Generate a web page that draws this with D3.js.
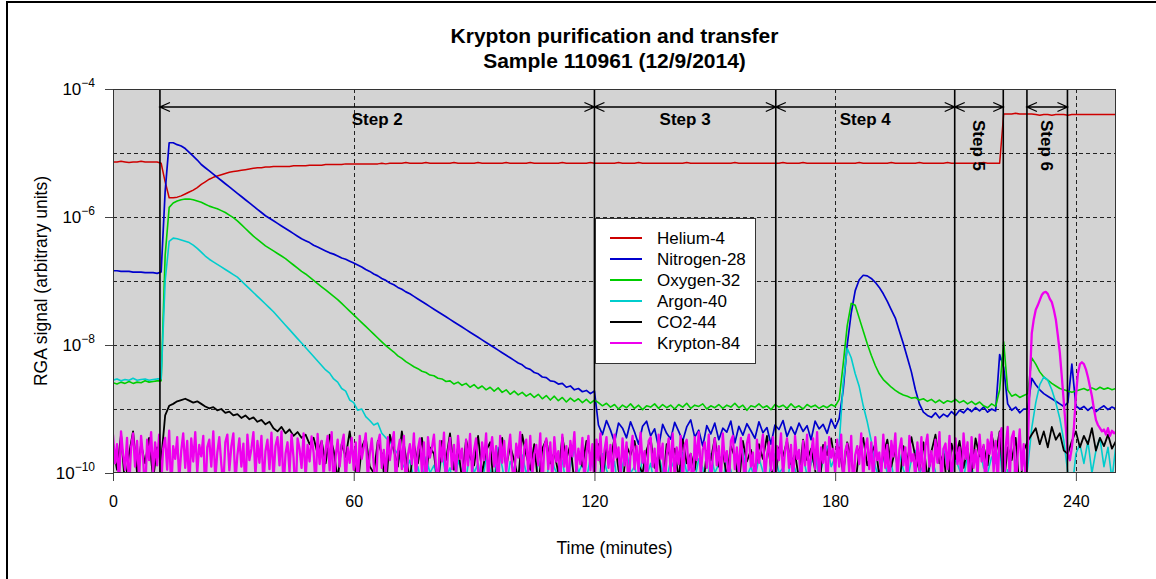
<!DOCTYPE html>
<html>
<head>
<meta charset="utf-8">
<script src="https://cdn.jsdelivr.net/npm/d3@7"></script>
<style>
body { margin: 0; background: #fff; }
text { font-family: "Liberation Sans", Arial, sans-serif; }
</style>
</head>
<body>
<script>
// RGA signal, stored as log10 of the signal, one reading per minute (krypton every half minute)
var helium = [
-5.14,-5.14,-5.13,-5.14,-5.15,-5.14,-5.14,-5.13,-5.14,-5.14,
-5.14,-5.14,-5.16,-5.45,-5.70,-5.70,-5.69,-5.67,-5.64,-5.61,
-5.58,-5.54,-5.49,-5.45,-5.41,-5.38,-5.36,-5.34,-5.32,-5.30,
-5.29,-5.28,-5.27,-5.26,-5.25,-5.24,-5.23,-5.23,-5.22,-5.22,
-5.21,-5.21,-5.21,-5.21,-5.21,-5.20,-5.20,-5.20,-5.20,-5.19,
-5.19,-5.19,-5.19,-5.18,-5.18,-5.18,-5.18,-5.18,-5.17,-5.17,
-5.17,-5.17,-5.17,-5.17,-5.17,-5.17,-5.17,-5.16,-5.17,-5.16,
-5.16,-5.16,-5.16,-5.15,-5.16,-5.16,-5.16,-5.16,-5.15,-5.16,
-5.16,-5.16,-5.16,-5.16,-5.16,-5.15,-5.16,-5.16,-5.16,-5.16,
-5.16,-5.15,-5.16,-5.16,-5.16,-5.16,-5.16,-5.16,-5.15,-5.16,
-5.16,-5.16,-5.16,-5.16,-5.15,-5.16,-5.16,-5.16,-5.16,-5.16,
-5.16,-5.16,-5.15,-5.16,-5.16,-5.16,-5.16,-5.16,-5.16,-5.15,
-5.16,-5.16,-5.16,-5.16,-5.16,-5.16,-5.15,-5.16,-5.16,-5.16,
-5.16,-5.15,-5.16,-5.16,-5.16,-5.16,-5.16,-5.16,-5.16,-5.16,
-5.16,-5.16,-5.16,-5.15,-5.16,-5.16,-5.16,-5.16,-5.16,-5.16,
-5.16,-5.16,-5.16,-5.16,-5.16,-5.15,-5.16,-5.16,-5.16,-5.16,
-5.16,-5.16,-5.16,-5.16,-5.16,-5.16,-5.16,-5.15,-5.16,-5.16,
-5.16,-5.16,-5.15,-5.16,-5.16,-5.16,-5.16,-5.16,-5.16,-5.16,
-5.16,-5.16,-5.16,-5.16,-5.16,-5.16,-5.15,-5.16,-5.16,-5.16,
-5.16,-5.16,-5.16,-5.16,-5.15,-5.16,-5.16,-5.16,-5.16,-5.16,
-5.16,-5.15,-5.16,-5.16,-5.16,-5.16,-5.16,-5.16,-5.15,-5.16,
-5.16,-5.16,-5.16,-5.16,-5.16,-5.16,-5.16,-5.15,-5.16,-5.16,
-5.16,-5.16,
-4.39,-4.39,-4.39,-4.38,-4.39,-4.39,-4.39,-4.39,
-4.40,-4.41,-4.40,-4.40,-4.41,-4.40,-4.40,-4.40,-4.41,-4.40,
-4.40,-4.40,-4.40,-4.40,-4.40,-4.40,-4.40,-4.40,-4.40,-4.40,-4.40
];

var nitrogen = [
-6.84,-6.84,-6.85,-6.85,-6.85,-6.86,-6.86,-6.86,-6.87,-6.87,
-6.87,-6.88,-6.86,-5.60,-4.84,-4.84,-4.87,-4.89,-4.93,-4.99,
-5.05,-5.11,-5.18,-5.23,-5.28,-5.33,-5.38,-5.43,-5.48,-5.53,
-5.58,-5.63,-5.68,-5.73,-5.78,-5.83,-5.88,-5.93,-5.98,-6.02,
-6.06,-6.10,-6.14,-6.18,-6.22,-6.26,-6.30,-6.34,-6.37,-6.40,
-6.44,-6.47,-6.50,-6.53,-6.56,-6.58,-6.61,-6.64,-6.66,-6.69,
-6.72,-6.75,-6.78,-6.82,-6.85,-6.89,-6.92,-6.96,-6.99,-7.03,
-7.06,-7.10,-7.13,-7.17,-7.20,-7.24,-7.28,-7.32,-7.36,-7.40,
-7.44,-7.48,-7.52,-7.56,-7.60,-7.64,-7.68,-7.72,-7.76,-7.80,
-7.84,-7.88,-7.92,-7.96,-8.00,-8.04,-8.08,-8.12,-8.16,-8.20,
-8.24,-8.28,-8.31,-8.36,-8.38,-8.43,-8.45,-8.50,-8.51,-8.56,
-8.57,-8.61,-8.60,-8.66,-8.64,-8.70,-8.68,-8.73,-8.71,-8.76,
-8.72,
-9.25,-9.40,-9.18,-9.33,-9.52,-9.22,-9.30,-9.45,-9.20,-9.36,
-9.55,-9.27,-9.19,-9.42,-9.31,-9.60,-9.24,-9.38,-9.47,-9.21,
-9.35,-9.50,-9.28,-9.17,-9.44,-9.33,-9.58,-9.26,-9.39,-9.22,
-9.48,-9.30,-9.36,-9.19,-9.53,-9.27,-9.41,-9.23,-9.34,-9.46,
-9.20,-9.37,-9.29,-9.55,-9.25,-9.32,-9.18,-9.43,-9.28,-9.40,
-9.22,-9.35,-9.26,-9.48,-9.19,-9.31,-9.24,-9.38,-9.16,-9.30,
-9.15,-8.70,-8.00,-7.50,-7.15,-6.98,-6.91,-6.92,-6.96,-7.02,
-7.10,-7.20,-7.32,-7.45,-7.58,-7.78,-7.98,-8.20,-8.42,-8.70,
-8.92,-9.05,-9.10,-9.13,-9.06,-9.14,-9.08,-9.12,-9.04,-9.10,
-9.02,-9.06,-8.99,-9.04,-8.98,-9.03,-8.97,-9.05,-9.00,-9.03,
-8.15,-8.35,-8.92,-9.02,-8.97,-9.06,-9.00,-9.00,-8.52,-8.62,
-8.70,-8.76,-8.80,-8.84,-8.88,-8.92,-8.96,-8.90,-8.30,-8.95,
-9.00,-8.96,-9.02,-8.97,-9.04,-8.99,-8.95,-9.01,-8.97,-9.00
];

var oxygen = [
-8.59,-8.61,-8.58,-8.60,-8.57,-8.60,-8.58,-8.59,-8.56,-8.58,
-8.57,-8.56,-8.56,-6.60,-5.85,-5.78,-5.75,-5.73,-5.72,-5.72,
-5.73,-5.75,-5.77,-5.80,-5.83,-5.85,-5.87,-5.90,-5.93,-5.97,
-6.01,-6.06,-6.12,-6.18,-6.24,-6.30,-6.35,-6.40,-6.45,-6.49,
-6.53,-6.57,-6.61,-6.65,-6.70,-6.75,-6.80,-6.85,-6.89,-6.94,
-6.99,-7.04,-7.09,-7.14,-7.19,-7.24,-7.29,-7.35,-7.41,-7.47,
-7.53,-7.59,-7.65,-7.71,-7.77,-7.83,-7.89,-7.95,-8.01,-8.06,
-8.11,-8.17,-8.21,-8.26,-8.30,-8.34,-8.37,-8.41,-8.43,-8.47,
-8.48,-8.52,-8.53,-8.57,-8.56,-8.61,-8.58,-8.63,-8.60,-8.66,
-8.62,-8.68,-8.64,-8.70,-8.66,-8.72,-8.67,-8.74,-8.70,-8.77,
-8.72,-8.78,-8.74,-8.80,-8.76,-8.82,-8.77,-8.84,-8.79,-8.86,
-8.80,-8.87,-8.82,-8.89,-8.83,-8.88,-8.84,-8.90,-8.85,-8.91,
-8.86,
-8.90,-8.95,-8.91,-8.97,-8.93,-9.00,-8.94,-8.98,-8.92,-8.99,
-8.94,-9.01,-8.95,-8.97,-8.92,-8.99,-8.93,-8.98,-8.94,-9.00,
-8.93,-8.97,-8.91,-8.99,-8.94,-8.96,-8.92,-9.00,-8.95,-8.98,
-8.93,-8.99,-8.94,-8.97,-8.91,-8.98,-8.94,-9.02,-8.95,-8.97,
-8.92,-8.98,-8.95,-9.01,-8.93,-8.97,-8.94,-8.99,-8.92,-8.98,
-8.95,-9.00,-8.93,-8.97,-8.94,-8.99,-8.95,-8.98,-8.93,-8.96,
-8.85,-8.30,-7.70,-7.35,-7.38,-7.58,-7.78,-7.98,-8.16,-8.32,
-8.45,-8.54,-8.60,-8.66,-8.71,-8.75,-8.78,-8.80,-8.83,-8.82,
-8.86,-8.84,-8.88,-8.85,-8.90,-8.86,-8.91,-8.87,-8.89,-8.85,
-8.90,-8.87,-8.92,-8.88,-8.93,-8.89,-8.95,-8.98,-8.92,-8.96,
-8.70,-7.95,-8.70,-8.80,-8.77,-8.82,-8.79,-8.76,-8.20,-8.30,
-8.42,-8.50,-8.55,-8.60,-8.64,-8.68,-8.70,-8.72,-8.74,-8.72,
-8.70,-8.68,-8.71,-8.67,-8.70,-8.66,-8.69,-8.67,-8.70,-8.68
];

var argon = [
-8.55,-8.53,-8.56,-8.54,-8.55,-8.52,-8.55,-8.54,-8.53,-8.55,
-8.54,-8.53,-8.53,-7.00,-6.38,-6.33,-6.34,-6.36,-6.38,-6.40,
-6.44,-6.49,-6.55,-6.61,-6.66,-6.70,-6.74,-6.78,-6.82,-6.86,
-6.90,-6.94,-7.00,-7.06,-7.12,-7.18,-7.24,-7.30,-7.36,-7.42,
-7.48,-7.55,-7.62,-7.69,-7.76,-7.83,-7.90,-7.97,-8.04,-8.11,
-8.18,-8.25,-8.32,-8.39,-8.44,-8.53,-8.58,-8.68,-8.72,-8.86,
-8.90,-9.02,-9.00,-9.12,-9.18,-9.25,-9.22,-9.38,-9.45,-9.50,
-9.62,-9.70,-9.85,-9.95,-9.80,-10.1,-9.90,-10.2,-9.75,-10.0,
-9.88,-10.15,-9.70,-10.05,-9.92,-10.3,-9.80,-9.98,-10.1,-9.65,
-10.0,-9.85,-10.2,-9.75,-9.95,-10.1,-9.60,-9.90,-10.25,-9.82,
-9.95,-10.1,-9.72,-10.0,-9.88,-10.3,-9.78,-9.96,-10.15,-9.68,
-9.92,-10.05,-9.80,-10.2,-9.90,-9.62,-10.0,-9.85,-10.1,-9.76,
-9.98,-10.2,-9.70,-9.95,-10.1,-9.82,-10.3,-9.88,-9.66,-10.0,
-9.90,-10.15,-9.75,-10.05,-9.85,-10.2,-9.72,-9.98,-10.1,-9.80,
-9.95,-10.25,-9.68,-10.0,-9.87,-10.1,-9.78,-9.92,-10.3,-9.70,
-10.0,-9.86,-10.15,-9.74,-9.96,-10.2,-9.82,-9.64,-10.05,-9.90,
-10.1,-9.76,-9.98,-10.25,-9.84,-9.70,-10.0,-9.92,-10.15,-9.78,
-9.94,-10.2,-9.72,-10.05,-9.86,-9.68,-10.1,-9.80,-9.58,-9.90,
-9.75,
-9.55,-8.60,-8.05,-8.20,-8.45,-8.65,-8.95,-9.20,-9.50,-9.90,
-10.1,-9.75,-10.0,-9.85,-10.2,-9.70,-9.95,-10.1,-9.80,-9.65,
-10.0,-9.88,-10.15,-9.72,-9.98,-10.2,-9.62,-9.90,-10.05,-9.78,
-9.95,-10.1,-9.70,-9.88,-10.2,-9.60,-9.92,-10.0,-9.75,-9.85,
-9.60,-10.3,-9.95,-10.4,-9.80,-10.2,-10.4,-9.90,-9.30,-8.90,
-8.62,-8.50,-8.55,-8.70,-8.90,-9.15,-9.50,-10.0,-10.3,-9.70,
-9.55,-9.85,-9.50,-10.0,-9.65,-9.45,-9.90,-9.60,-10.1,-9.55
];

var co2 = [
-9.60,-9.95,-9.40,-10.2,-9.70,-9.35,-10.0,-9.55,-9.85,-9.45,
-10.1,-9.60,-9.80,-9.10,-8.95,-8.92,-8.88,-8.86,-8.84,-8.87,
-8.90,-8.88,-8.92,-8.96,-8.99,-8.97,-9.02,-9.00,-9.06,-9.04,
-9.10,-9.08,-9.14,-9.10,-9.16,-9.13,-9.20,-9.17,-9.24,-9.20,
-9.30,-9.35,-9.28,-9.38,-9.32,-9.42,-9.36,-9.45,-9.40,-9.55,
-9.45,-9.70,-9.50,-9.85,-9.40,-9.65,-10.1,-9.55,-9.75,-9.35,
-9.80,-10.2,-9.60,-9.45,-9.90,-10.0,-9.50,-9.70,-10.3,-9.40,
-9.65,-9.90,-9.35,-9.75,-10.1,-9.55,-9.85,-9.45,-10.0,-9.60,
-9.70,-10.2,-9.50,-9.80,-9.38,-9.95,-9.60,-10.1,-9.48,-9.75,
-9.88,-9.42,-10.0,-9.65,-9.52,-10.3,-9.70,-9.45,-9.90,-9.58,
-9.80,-10.1,-9.40,-9.72,-9.95,-9.55,-10.2,-9.62,-9.48,-9.85,
-9.68,-10.0,-9.44,-9.78,-9.56,-10.15,-9.66,-9.90,-9.50,-9.74,
-9.85,-9.55,-10.1,-9.62,-9.80,-9.45,-9.95,-10.2,-9.58,-9.72,
-9.50,-9.88,-10.0,-9.64,-9.46,-9.92,-9.70,-10.25,-9.55,-9.78,
-9.62,-10.1,-9.48,-9.85,-9.70,-9.95,-9.52,-10.3,-9.66,-9.80,
-9.45,-9.90,-9.68,-10.05,-9.58,-9.75,-10.2,-9.50,-9.82,-9.64,
-10.0,-9.55,-9.78,-9.42,-9.92,-10.15,-9.60,-9.74,-9.50,-9.86,
-9.70,-10.1,-9.48,-9.80,-9.62,-9.95,-10.3,-9.56,-9.72,-9.46,
-9.84,-9.60,-10.0,-9.52,-9.76,-10.2,-9.64,-9.45,-9.88,-9.70,
-9.55,-10.05,-9.72,-9.48,-9.90,-9.62,-10.2,-9.58,-9.80,-9.44,
-9.75,-9.95,-9.52,-10.1,-9.66,-9.40,-9.85,-9.70,-10.25,-9.54,
-9.78,-9.50,-9.92,-9.62,-10.0,-9.46,-9.74,-9.58,-9.88,-9.40,
-9.70,-9.35,-10.2,-9.60,-9.80,-9.45,-10.3,-9.65,-9.50,-9.40,
-9.30,-9.55,-9.35,-9.60,-9.28,-9.48,-9.38,-9.65,-9.70,-9.50,
-9.35,-9.60,-9.42,-9.55,-9.30,-9.65,-9.45,-9.58,-9.40,-9.62,-9.50
];

var krypton = [
-9.40,-9.85,-9.55,-10.2,-9.35,-9.70,-9.95,-9.45,-10.3,-9.60,-9.38,-9.90,-9.50,-10.1,-9.42,-9.75,-10.4,-9.48,-9.80,-9.36,
-10.0,-9.52,-9.88,-9.40,-10.2,-9.62,-9.45,-9.95,-9.34,-10.3,-9.58,-9.78,-9.44,-10.1,-9.66,-9.38,-9.92,-9.50,-10.25,-9.46,
-9.82,-9.36,-10.0,-9.56,-9.74,-9.42,-10.35,-9.60,-9.48,-9.90,-9.35,-10.1,-9.68,-9.44,-9.86,-10.2,-9.52,-9.40,-9.96,-9.58,
-9.38,-10.15,-9.72,-9.46,-9.90,-9.54,-10.3,-9.40,-9.80,-9.62,-9.36,-10.05,-9.50,-9.84,-9.42,-10.2,-9.66,-9.48,-9.94,-9.37,
-10.1,-9.58,-9.44,-9.88,-9.35,-10.25,-9.70,-9.52,-9.98,-9.40,-9.76,-10.4,-9.46,-9.62,-9.92,-9.38,-10.1,-9.56,-9.82,-9.43,
-9.68,-10.2,-9.39,-9.86,-9.50,-10.05,-9.64,-9.42,-9.96,-9.36,-10.3,-9.74,-9.48,-9.90,-9.56,-9.40,-10.15,-9.60,-9.84,-9.45,
-9.95,-9.52,-10.25,-9.42,-9.78,-9.60,-9.38,-10.1,-9.70,-9.46,-9.88,-10.35,-9.54,-9.40,-9.92,-9.64,-10.05,-9.44,-9.80,-9.58,
-9.36,-10.2,-9.66,-9.48,-9.94,-9.42,-10.3,-9.72,-9.55,-9.86,-9.38,-10.1,-9.62,-9.46,-9.98,-9.52,-10.4,-9.44,-9.76,-9.60,
-9.40,-9.90,-10.15,-9.50,-9.82,-9.37,-10.25,-9.68,-9.45,-9.94,-9.56,-10.05,-9.42,-9.78,-9.62,-10.3,-9.48,-9.88,-9.39,-10.0,
-9.64,-9.46,-9.96,-10.2,-9.52,-9.80,-9.38,-10.1,-9.70,-9.44,-9.90,-9.58,-10.35,-9.42,-9.84,-9.50,-10.0,-9.66,-9.40,-9.92,
-10.15,-9.54,-9.76,-9.36,-10.25,-9.62,-9.48,-9.98,-9.42,-10.05,-9.72,-9.56,-9.88,-9.38,-10.3,-9.60,-9.46,-9.94,-9.52,-10.1,
-9.44,-9.82,-9.66,-10.2,-9.40,-9.90,-9.58,-10.4,-9.50,-9.74,-9.36,-10.0,-9.62,-9.86,-9.45,-10.15,-9.70,-9.42,-9.96,-9.55,
-10.3,-9.48,-9.80,-9.38,-10.05,-9.64,-9.44,-9.92,-9.56,-10.2,-9.40,-9.76,-9.60,-10.1,-9.46,-9.88,-9.52,-10.35,-9.68,-9.42,
-9.94,-9.58,-10.0,-9.37,-9.84,-9.66,-10.25,-9.50,-9.44,-9.90,-9.62,-10.15,-9.40,-9.78,-9.54,-10.3,-9.72,-9.46,-9.98,-9.38,
-10.1,-9.60,-9.86,-9.42,-10.2,-9.56,-9.48,-9.96,-9.70,-10.4,-9.44,-9.80,-9.36,-10.05,-9.64,-9.52,-9.92,-9.40,-10.25,-9.74,
-9.46,-9.88,-9.58,-10.15,-9.38,-9.82,-9.66,-10.3,-9.50,-9.42,-9.94,-9.60,-10.0,-9.45,-9.76,-10.2,-9.54,-9.40,-9.90,-9.68,
-10.35,-9.48,-9.84,-9.62,-9.40,-10.1,-9.72,-9.52,-9.96,-9.44,-10.25,-9.58,-9.80,-9.38,-10.05,-9.66,-9.46,-9.92,-9.56,-10.2,
-9.42,-9.78,-9.64,-10.3,-9.50,-9.88,-9.40,-10.1,-9.70,-9.46,-9.94,-9.36,-10.15,-9.60,-9.84,-9.52,-10.4,-9.44,-9.76,-9.62,
-10.0,-9.48,-9.90,-9.40,-10.2,-9.66,-9.54,-9.98,-9.42,-10.3,-9.72,-9.58,-9.86,-9.38,-10.1,-9.62,-9.46,-9.94,-9.52,-10.25,
-9.44,-9.80,-9.68,-10.05,-9.40,-9.92,-9.56,-10.35,-9.50,-9.74,-9.38,-10.15,-9.64,-9.46,-9.88,-9.60,-10.2,-9.42,-9.82,-9.70,
-10.1,-9.52,-9.96,-9.44,-10.3,-9.58,-9.40,-9.90,-9.66,-10.0,-9.48,-9.84,-9.36,-10.25,-9.62,-9.54,-9.94,-9.42,-10.15,-9.72,
-9.46,-9.86,-9.60,-10.2,-9.38,-9.78,-9.52,-10.4,-9.44,-9.92,-9.64,-10.05,-9.40,-9.82,-9.56,-10.3,-9.48,-9.70,-9.36,-9.98,
-9.50,-10.2,-9.40,-9.30,-10.4,-9.60,-9.28,-10.1,-9.45,-9.35,-10.3,-9.70,-9.32,-9.95,-9.55,-10.2,-9.60,-8.60,-7.82,-7.60,
-7.45,-7.38,-7.30,-7.22,-7.18,-7.17,-7.20,-7.28,-7.33,-7.45,-7.60,-7.85,-8.12,-8.50,-8.90,-9.30,-9.70,-9.80,-9.60,-9.30,
-8.80,-8.45,-8.30,-8.27,-8.30,-8.38,-8.50,-8.65,-8.80,-9.00,-9.17,-9.25,-9.30,-9.35,-9.32,-9.40,-9.30,-9.42,-9.34,-9.38,
-9.36
];

var seriesNames = ["Helium-4", "Nitrogen-28", "Oxygen-32", "Argon-40", "CO2-44", "Krypton-84"];
var seriesColors = ["#cd0000", "#0000cd", "#00cd00", "#00cdcd", "#000000", "#ee00ee"];
var seriesData = [helium, nitrogen, oxygen, argon, co2, krypton];
var seriesStep = [1, 1, 1, 1, 1, 0.5];   // minutes between readings
var seriesWidth = [1.5, 1.7, 1.6, 1.6, 1.8, 2.3];

// purification steps (minutes)
var stepNames = ["Step 2", "Step 3", "Step 4", "Step 5", "Step 6"];
var stepStart = [11.7, 120, 165.2, 209.8, 227.8];
var stepEnd = [120, 165.2, 209.8, 221.9, 237.9];
var stepLines = [11.7, 120, 165.2, 209.8, 221.9, 227.8, 237.9];

var xTicks = [0, 60, 120, 180, 240];
var yTicks = [1e-4, 1e-6, 1e-8, 1e-10];
var yGrid = [1e-5, 1e-6, 1e-7, 1e-8, 1e-9];
var xGrid = [60, 120, 180, 240];

var width = 1156, height = 579;
var margin = {left: 113, right: 40, top: 89, bottom: 105};
var plotW = width - margin.left - margin.right;
var plotH = height - margin.top - margin.bottom - 1;

var x = d3.scaleLinear().domain([0, 250]).range([margin.left, margin.left + plotW]);
var y = d3.scaleLog().domain([1e-10, 1e-4]).range([margin.top + plotH, margin.top]);

var svg = d3.select("body").append("svg").attr("width", width).attr("height", height);

// outer frame of the figure
svg.append("path").attr("d", "M7,600 L7,2 L1160,2")
   .attr("fill", "none").attr("stroke", "#000").attr("stroke-width", 2);

svg.append("defs").append("clipPath").attr("id", "plotclip")
   .append("rect").attr("x", margin.left).attr("y", margin.top).attr("width", plotW).attr("height", plotH);

svg.append("rect").attr("x", margin.left).attr("y", margin.top)
   .attr("width", plotW).attr("height", plotH).attr("fill", "#d3d3d3");

var grid = svg.append("g").attr("stroke", "#222").attr("stroke-dasharray", "4,3").attr("stroke-width", 1);
grid.selectAll("line.h").data(yGrid).enter().append("line")
    .attr("x1", margin.left).attr("x2", margin.left + plotW)
    .attr("y1", function(d) { return Math.round(y(d)) + 0.5; })
    .attr("y2", function(d) { return Math.round(y(d)) + 0.5; });
grid.selectAll("line.v").data(xGrid).enter().append("line")
    .attr("y1", margin.top).attr("y2", margin.top + plotH)
    .attr("x1", function(d) { return Math.round(x(d)) + 0.5; })
    .attr("x2", function(d) { return Math.round(x(d)) + 0.5; });

var line = d3.line()
    .x(function(d) { return x(d[0]); })
    .y(function(d) { return y(Math.pow(10, d[1])); });

var traces = svg.append("g").attr("clip-path", "url(#plotclip)");
seriesData.forEach(function(vals, k) {
  var pts = vals.map(function(v, i) { return [i * seriesStep[k], v]; });
  traces.append("path")
    .attr("d", line(pts))
    .attr("fill", "none")
    .attr("stroke", seriesColors[k])
    .attr("stroke-width", seriesWidth[k])
    .attr("stroke-linejoin", "round");
});

// step boundaries
svg.append("g").selectAll("line").data(stepLines).enter().append("line")
   .attr("x1", function(d) { return x(d); }).attr("x2", function(d) { return x(d); })
   .attr("y1", margin.top).attr("y2", margin.top + plotH)
   .attr("stroke", "#000").attr("stroke-width", 1.6);

// double-headed arrows and step labels
var arrowY = margin.top + 18;
var arrows = svg.append("g").attr("fill", "none").attr("stroke", "#000").attr("stroke-width", 1.3);
stepNames.forEach(function(name, i) {
  var x1 = x(stepStart[i]), x2 = x(stepEnd[i]);
  arrows.append("path").attr("d",
    "M" + x1 + "," + arrowY + "L" + x2 + "," + arrowY +
    "M" + (x1 + 10) + "," + (arrowY - 4.5) + "L" + x1 + "," + arrowY + "L" + (x1 + 10) + "," + (arrowY + 4.5) +
    "M" + (x2 - 10) + "," + (arrowY - 4.5) + "L" + x2 + "," + arrowY + "L" + (x2 - 10) + "," + (arrowY + 4.5));
  var cx = (x1 + x2) / 2;
  if (x2 - x1 > 100) {
    svg.append("text").attr("x", cx).attr("y", arrowY + 18)
       .attr("text-anchor", "middle").attr("font-weight", "bold").attr("font-size", 17).text(name);
  } else {
    svg.append("text").attr("transform", "translate(" + cx + "," + (arrowY + 13) + ") rotate(90)")
       .attr("dy", "0.35em").attr("font-weight", "bold").attr("font-size", 17).text(name);
  }
});

// axes
var xAxis = d3.axisBottom(x).tickValues(xTicks).tickSize(8).tickPadding(15).tickSizeOuter(0);
var gx = svg.append("g").attr("transform", "translate(0," + (margin.top + plotH) + ")").call(xAxis);
gx.select(".domain").remove();
gx.selectAll(".tick line").attr("stroke", "#444");
gx.selectAll(".tick text").attr("font-size", 16).attr("fill", "#000")
  .style("font-family", "'Liberation Sans', Arial, sans-serif");

var yAxis = d3.axisLeft(y).tickValues(yTicks).tickSize(8).tickPadding(10).tickFormat("");
var gy = svg.append("g").attr("transform", "translate(" + margin.left + ",0)").call(yAxis);
gy.select(".domain").remove();
gy.selectAll(".tick line").attr("stroke", "#444");
gy.selectAll(".tick text").each(function(d) {
  var t = d3.select(this).attr("font-size", 17).attr("fill", "#000")
            .style("font-family", "'Liberation Sans', Arial, sans-serif");
  t.append("tspan").text("10");
  t.append("tspan").attr("font-size", 12).attr("dy", -8)
   .text("\u2212" + Math.round(-Math.log10(d)));
});

// plot box
svg.append("rect").attr("x", margin.left + 0.5).attr("y", margin.top + 0.5)
   .attr("width", plotW - 1).attr("height", plotH - 1)
   .attr("fill", "none").attr("stroke", "#333").attr("stroke-width", 1);

// titles
svg.append("text").attr("x", x(125)).attr("y", 43).attr("text-anchor", "middle")
   .attr("font-weight", "bold").attr("font-size", 21).text("Krypton purification and transfer");
svg.append("text").attr("x", x(125)).attr("y", 68).attr("text-anchor", "middle")
   .attr("font-weight", "bold").attr("font-size", 21).text("Sample 110961 (12/9/2014)");
svg.append("text").attr("x", x(125)).attr("y", 554).attr("text-anchor", "middle")
   .attr("font-size", 17.5).text("Time (minutes)");
svg.append("text").attr("transform", "translate(47," + (margin.top + plotH / 2) + ") rotate(-90)")
   .attr("text-anchor", "middle").attr("font-size", 17.5).text("RGA signal (arbitrary units)");

// legend
var legend = svg.append("g").attr("transform", "translate(595,218)");
legend.append("rect").attr("x", 0.5).attr("y", 0.5).attr("width", 160).attr("height", 145)
      .attr("fill", "#fff").attr("stroke", "#333");
seriesNames.forEach(function(name, i) {
  var ly = 20 + i * 21;
  legend.append("line").attr("x1", 15).attr("x2", 47).attr("y1", ly).attr("y2", ly)
        .attr("stroke", seriesColors[i]).attr("stroke-width", 2);
  legend.append("text").attr("x", 62).attr("y", ly).attr("dy", "0.35em")
        .attr("font-size", 17).text(name);
});
</script>
</body>
</html>
